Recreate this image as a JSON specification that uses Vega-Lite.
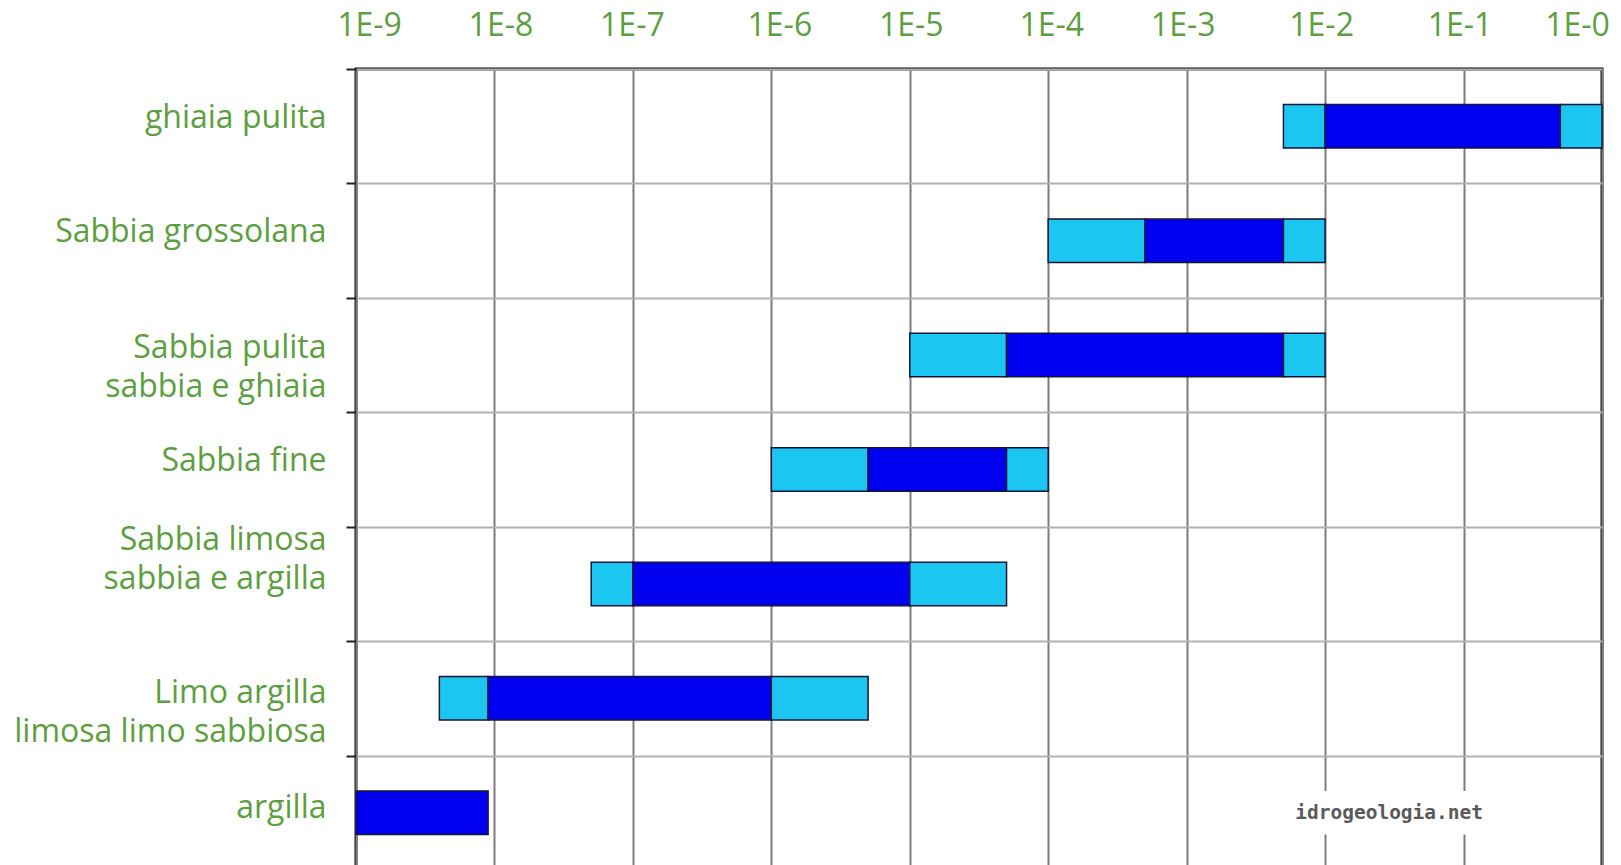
{
  "$schema": "https://vega.github.io/schema/vega-lite/v6.json",
  "autosize": "none",
  "padding": {"left": 356, "top": 69, "right": 19, "bottom": 0},
  "width": 1246,
  "height": 801,
  "background": "white",
  "config": {
    "font": "Open Sans",
    "view": {"stroke": "#111111", "strokeWidth": 3}
  },
  "datasets": {
    "intervalli": [
      {"terreno": "ghiaia pulita", "classe": "esteso", "da": 0.005, "a": 0.01},
      {"terreno": "ghiaia pulita", "classe": "tipico", "da": 0.01, "a": 0.5},
      {"terreno": "ghiaia pulita", "classe": "esteso", "da": 0.5, "a": 1},
      {"terreno": "Sabbia grossolana", "classe": "esteso", "da": 0.0001, "a": 0.0005},
      {"terreno": "Sabbia grossolana", "classe": "tipico", "da": 0.0005, "a": 0.005},
      {"terreno": "Sabbia grossolana", "classe": "esteso", "da": 0.005, "a": 0.01},
      {"terreno": "Sabbia pulita|sabbia e ghiaia", "classe": "esteso", "da": 0.00001, "a": 0.00005},
      {"terreno": "Sabbia pulita|sabbia e ghiaia", "classe": "tipico", "da": 0.00005, "a": 0.005},
      {"terreno": "Sabbia pulita|sabbia e ghiaia", "classe": "esteso", "da": 0.005, "a": 0.01},
      {"terreno": "Sabbia fine", "classe": "esteso", "da": 0.000001, "a": 0.000005},
      {"terreno": "Sabbia fine", "classe": "tipico", "da": 0.000005, "a": 0.00005},
      {"terreno": "Sabbia fine", "classe": "esteso", "da": 0.00005, "a": 0.0001},
      {"terreno": "Sabbia limosa|sabbia e argilla", "classe": "esteso", "da": 5e-8, "a": 1e-7},
      {"terreno": "Sabbia limosa|sabbia e argilla", "classe": "tipico", "da": 1e-7, "a": 0.00001},
      {"terreno": "Sabbia limosa|sabbia e argilla", "classe": "esteso", "da": 0.00001, "a": 0.00005},
      {"terreno": "Limo argilla|limosa limo sabbiosa", "classe": "esteso", "da": 4e-9, "a": 9e-9},
      {"terreno": "Limo argilla|limosa limo sabbiosa", "classe": "tipico", "da": 9e-9, "a": 0.000001},
      {"terreno": "Limo argilla|limosa limo sabbiosa", "classe": "esteso", "da": 0.000001, "a": 0.000005},
      {"terreno": "argilla", "classe": "tipico", "da": 1e-9, "a": 9e-9}
    ],
    "marchio": [
      {"terreno": "argilla", "testo": "idrogeologia.net", "da": 0.0056, "a": 0.151, "centro": 0.029}
    ]
  },
  "encoding": {
    "y": {
      "field": "terreno",
      "type": "nominal",
      "scale": {
        "domain": [
          "ghiaia pulita",
          "Sabbia grossolana",
          "Sabbia pulita|sabbia e ghiaia",
          "Sabbia fine",
          "Sabbia limosa|sabbia e argilla",
          "Limo argilla|limosa limo sabbiosa",
          "argilla"
        ],
        "paddingInner": 0,
        "paddingOuter": 0
      },
      "axis": {
        "title": null,
        "domain": false,
        "tickBand": "extent",
        "ticks": true,
        "tickSize": 10,
        "tickWidth": 2,
        "tickColor": "#222222",
        "grid": true,
        "gridColor": "#b2b2b2",
        "gridWidth": 2,
        "labelExpr": "split(datum.label, '|')",
        "labelFont": "Open Sans",
        "labelFontSize": 32,
        "labelColor": "#5c9f40",
        "labelAlign": "right",
        "labelBaseline": "alphabetic",
        "labelLineHeight": 39,
        "labelPadding": 20,
        "labelLimit": 0,
        "labelOffset": {"expr": "datum.value == 'Sabbia limosa|sabbia e argilla' ? -34 : datum.value == 'argilla' ? 5 : datum.value == 'Limo argilla|limosa limo sabbiosa' ? 4 : datum.value == 'Sabbia pulita|sabbia e ghiaia' ? 2 : 1"}
      }
    }
  },
  "layer": [
    {
      "data": {"name": "intervalli"},
      "mark": {"type": "bar", "height": {"band": 0.38}, "stroke": "#15153a", "strokeWidth": 1.5},
      "encoding": {
        "x": {
          "field": "da",
          "type": "quantitative",
          "scale": {"type": "log", "domain": [1e-9, 1], "nice": false},
          "axis": {
            "title": null,
            "orient": "top",
            "values": [1e-9, 1e-8, 1e-7, 1e-6, 1e-5, 1e-4, 1e-3, 1e-2, 1e-1, 1],
            "labelExpr": "'1E-' + (-round(log(datum.value) / LN10))",
            "domain": false,
            "ticks": false,
            "grid": true,
            "gridColor": "#7c7c7c",
            "gridWidth": 2,
            "labelFont": "Open Sans",
            "labelFontSize": 32,
            "labelColor": "#5c9f40",
            "labelBaseline": "alphabetic",
            "labelPadding": 34,
            "labelFlush": false,
            "labelOverlap": false,
            "labelOffset": {"expr": "[13, 6, -1, 8, 1, 3, -4, -4, -4, -25][round(log(datum.value) / LN10) + 9]"}
          }
        },
        "x2": {"field": "a"},
        "color": {
          "field": "classe",
          "type": "nominal",
          "scale": {"domain": ["esteso", "tipico"], "range": ["#1bc6f0", "#0000f0"]},
          "legend": null
        }
      }
    },
    {
      "data": {"name": "marchio"},
      "mark": {"type": "bar", "height": {"band": 0.38}, "color": "white"},
      "encoding": {
        "x": {"field": "da", "type": "quantitative", "axis": {"title": null}},
        "x2": {"field": "a"}
      }
    },
    {
      "data": {"name": "marchio"},
      "mark": {"type": "text", "font": "DejaVu Sans Mono", "fontSize": 19.5, "fontWeight": "bold", "color": "#5a5a5a", "align": "center", "baseline": "middle"},
      "encoding": {
        "x": {"field": "centro", "type": "quantitative", "axis": {"title": null}},
        "text": {"field": "testo"}
      }
    }
  ]
}
